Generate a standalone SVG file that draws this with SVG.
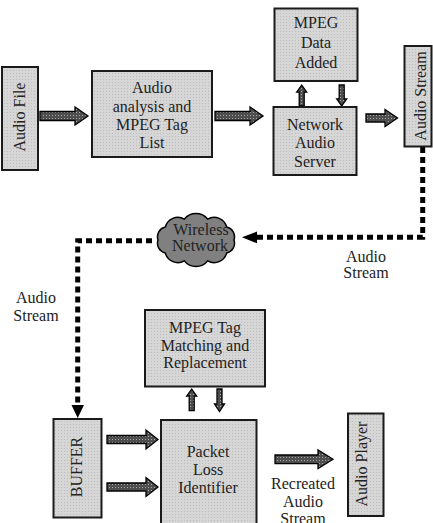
<svg xmlns="http://www.w3.org/2000/svg" width="433" height="523" viewBox="0 0 433 523">
<defs>
<pattern id="boxTex" width="3" height="3" patternUnits="userSpaceOnUse">
<rect width="3" height="3" fill="#d6d6d6"/>
<rect x="1" y="1" width="1" height="1" fill="#bdbdbd"/>
</pattern>
<pattern id="arrTex" width="3" height="3" patternUnits="userSpaceOnUse">
<rect width="3" height="3" fill="#4e4e4e"/>
<rect x="1" y="1" width="1" height="1" fill="#a8a8a8"/>
</pattern>
<marker id="tri" viewBox="0 0 10 10" refX="0" refY="5" markerWidth="3" markerHeight="3" orient="auto" markerUnits="strokeWidth">
<path d="M0,0 L10,5 L0,10 Z" fill="#000"/>
</marker>
<style>
.box{fill:url(#boxTex);stroke:#1a1a1a;stroke-width:2}
.blk{fill:url(#arrTex);stroke:#000;stroke-width:1.3;stroke-linejoin:miter}
.t{font-family:"Liberation Serif","Times New Roman",serif;font-size:16px;fill:#222;text-anchor:middle}
.dot{fill:none;stroke:#000;stroke-width:5;stroke-dasharray:6 4}
.cloud{fill:#808080;stroke:#000;stroke-width:1.5}
</style>
</defs>
<rect width="433" height="523" fill="#fff"/>

<g id="connectors">
<path class="blk" d="M40,111.5 H75 V107 L88,116 L75,125 V120.5 H40 Z"/>
<path class="blk" d="M215,111.5 H250 V107 L263,116 L250,125 V120.5 H215 Z"/>
<path class="blk" d="M366,114 H385 V109.5 L397.5,118 L385,126.5 V122 H366 Z"/>
<path class="blk" d="M299.2,106 V92 H296.7 L301.7,85 L306.7,92 H304.2 V106 Z"/>
<path class="blk" d="M339.2,85 V99 H336.7 L341.7,106 L346.7,99 H344.2 V85 Z"/>
<path class="blk" d="M189.2,410.5 V396 H186.7 L191.7,389 L196.7,396 H194.2 V410.5 Z"/>
<path class="blk" d="M217,389 V404 H214.5 L219.5,411.5 L224.5,404 H222 V389 Z"/>
<path class="blk" d="M107,435.5 H146 V430 L158,439.5 L146,449 V443.5 H107 Z"/>
<path class="blk" d="M107,483 H146 V477.5 L158,487 L146,496.5 V491 H107 Z"/>
<path class="blk" d="M275,455 H318 V450 L333,459.3 L318,468.6 V463.6 H275 Z"/>
<path class="dot" d="M422.7,147 V237.3 H257"/>
<path d="M257,231.5 L242,237.3 L257,243.3 Z" fill="#000"/>
<path class="dot" d="M152,240.7 H77.7 V405"/>
<path d="M71.5,405 L77.7,418 L84,405 Z" fill="#000"/>
</g>

<g id="audio-file">
<rect class="box" x="2" y="67" width="36" height="103"/>
<text class="t" transform="translate(25,117) rotate(-90)">Audio File</text>
</g>

<g id="audio-analysis">
<rect class="box" x="92" y="71" width="120" height="86"/>
<text class="t" x="152" y="93.3">Audio</text>
<text class="t" x="152" y="111.6">analysis and</text>
<text class="t" x="152" y="129.9">MPEG Tag</text>
<text class="t" x="152" y="148">List</text>
</g>

<g id="mpeg-data">
<rect class="box" x="274.5" y="8.5" width="83" height="72.5"/>
<text class="t" x="316" y="28.3">MPEG</text>
<text class="t" x="316" y="48.3">Data</text>
<text class="t" x="316" y="67.7">Added</text>
</g>

<g id="network-audio-server">
<rect class="box" x="273.5" y="107" width="83" height="68"/>
<text class="t" x="315" y="130">Network</text>
<text class="t" x="315" y="148.3">Audio</text>
<text class="t" x="315" y="166.7">Server</text>
</g>

<g id="audio-stream">
<rect class="box" x="404.5" y="46" width="27" height="100.5"/>
<text class="t" transform="translate(426,96) rotate(-90)">Audio Stream</text>
</g>

<g id="wireless-network">
<path class="cloud" d="M158,240 A10,10 0 0 1 165.3,227.1 A13,13 0 0 1 184.3,219.1 A15,15 0 0 1 207.7,219.1 A13,13 0 0 1 226.7,227.1 A10,10 0 0 1 234,240 A10,10 0 0 1 226.7,252.9 A13,13 0 0 1 207.7,260.9 A15,15 0 0 1 184.3,260.9 A13,13 0 0 1 165.3,252.9 A10,10 0 0 1 158,240 Z"/>
<text class="t" x="201" y="235">Wireless</text>
<text class="t" x="200" y="251">Network</text>
</g>

<g id="label-stream-right">
<text class="t" x="366" y="261.7">Audio</text>
<text class="t" x="366" y="278.3">Stream</text>
</g>

<g id="label-stream-left">
<text class="t" x="36" y="303.3">Audio</text>
<text class="t" x="36" y="321">Stream</text>
</g>

<g id="mpeg-tag-matching">
<rect class="box" x="145" y="310" width="120" height="76.5"/>
<text class="t" x="205" y="332.7">MPEG Tag</text>
<text class="t" x="205" y="351">Matching and</text>
<text class="t" x="205" y="368.3">Replacement</text>
</g>

<g id="buffer">
<rect class="box" x="53.5" y="419" width="48" height="98.5"/>
<text class="t" transform="translate(82,467) rotate(-90)">BUFFER</text>
</g>

<g id="packet-loss-identifier">
<rect class="box" x="161" y="420" width="95.5" height="110"/>
<text class="t" x="208" y="456.7">Packet</text>
<text class="t" x="208" y="475">Loss</text>
<text class="t" x="208" y="493.3">Identifier</text>
</g>

<g id="recreated-label">
<text class="t" x="303" y="489">Recreated</text>
<text class="t" x="303" y="506.7">Audio</text>
<text class="t" x="303" y="524.3">Stream</text>
</g>

<g id="audio-player">
<rect class="box" x="348" y="413.5" width="35.5" height="102.5"/>
<text class="t" transform="translate(367,464) rotate(-90)">Audio Player</text>
</g>
</svg>
